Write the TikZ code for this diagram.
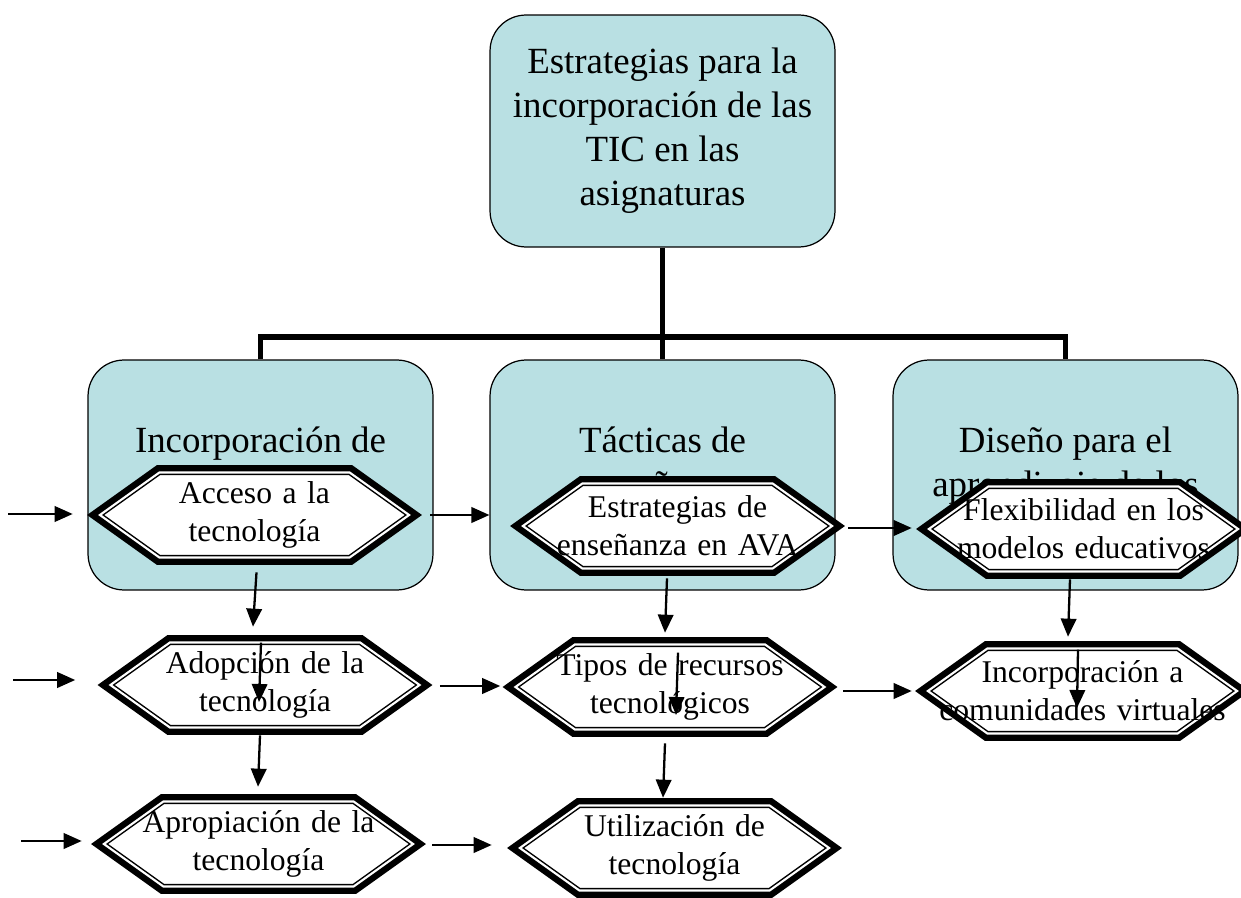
\documentclass[tikz,border=0pt]{standalone}
\usepackage{fontspec}
\setmainfont{Liberation Serif}
\usepackage{tikz}
\usetikzlibrary{calc, positioning, arrows.meta}
\definecolor{boxblue}{RGB}{185,224,227}
\tikzset{
    mainbox/.style={draw, fill=boxblue, rounded corners=0.72cm, line width=0.7pt, minimum width=6.9cm, minimum height=4.6cm, align=center, font=\fontsize{21}{25}\selectfont},
    boxtitle/.style={align=center, inner sep=0pt, font=\fontsize{21}{25}\selectfont},
    hexouter/.style={line width=8.5pt},
    hexinner/.style={fill=white, double, line width=0.85pt, double distance=1.2pt},
    hexnode/.style={minimum width=6.7cm, minimum height=2cm, inner sep=0pt, text width=6.2cm, align=center, font=\fontsize{18}{21.6}\selectfont,
        path picture={
            \coordinate (hc) at (path picture bounding box.center);
            \foreach \st in {hexouter,hexinner}
                \draw[\st] ($(hc)+(-154.6,0)$) -- ($(hc)+(-95.1,-42.5)$) -- ($(hc)+(95.1,-42.5)$) -- ($(hc)+(154.6,0)$) -- ($(hc)+(95.1,42.5)$) -- ($(hc)+(-95.1,42.5)$) -- cycle;
        }},
    link/.style={line width=2.85pt},
    arrow/.style={line width=1.3pt, -{Triangle[length=3.6mm, width=3.1mm]}}
}
\begin{document}
\begin{tikzpicture}[x=0.02cm, y=-0.02cm]
    \useasboundingbox (0,0) rectangle (1241,898);

    % top box and the three blocks
    \node[mainbox, minimum height=4.64cm] (top) at (662.5,131) {Estrategias para la\\incorporación de las\\TIC en las\\asignaturas};
    \node[mainbox] (inc) at (260.5,475) {};
    \node[mainbox] (tac) at (662.5,475) {};
    \node[mainbox] (dis) at (1065.5,475) {};

    % titles of the blocks
    \node[boxtitle, below=1.34cm of inc.north] (incT) {Incorporación de};
    \node[boxtitle, below=1.34cm of tac.north] (tacT) {Tácticas de\\enseñanza};
    \node[boxtitle, below=1.34cm of dis.north] (disT) {Diseño para el\\aprendizaje de los};

    % tree lines
    \coordinate (bus) at (663,337);
    \draw[link] (top.south) -- (tac.north);
    \draw[link] (inc.north) -- (inc.north |- bus) -- (dis.north |- bus) -- (dis.north);

    % hexagons
    \node[hexnode] (acc) at (254.5,515) {Acceso a la\\tecnología};
    \node[hexnode] (est) at (677.5,526) {Estrategias de\\enseñanza en AVA};
    \node[hexnode] (flex) at (1083.5,529) {Flexibilidad en los\\modelos educativos};
    \node[hexnode] (adop) at (265,685) {Adopción de la\\tecnología};
    \node[hexnode] (tipos) at (670,687) {Tipos de recursos\\tecnológicos};
    \node[hexnode] (incc) at (1082.5,691) {Incorporación a\\comunidades virtuales};
    \node[hexnode] (apro) at (258.5,844) {Apropiación de la\\tecnología};
    \node[hexnode] (util) at (674.5,848) {Utilización de\\tecnología};

    % free tails on the left
    \coordinate (inA) at (8,514);
    \coordinate (inB) at (13,680);
    \coordinate (inC) at (21,841);

    % arrows
    \draw[arrow] (inA) -- ($(acc.west)+(-14,-1)$);
    \draw[arrow] ($(acc.east)+(8,0)$) -- (acc.east -| tac.west);
    \draw[arrow] ($(est.east)+(3,2)$) -- ($(flex.west |- est.east)+(-4,2)$);
    \draw[arrow] ($(acc.south)+(2,7)$) -- ($(adop.north)+(-12,-8)$);
    \draw[arrow] ($(adop.north)+(-4,8)$) -- ($(adop.center)+(-6,17)$);
    \draw[arrow] ($(adop.south)+(-5,0)$) -- ($(apro.north)+(-0.5,-7)$);
    \draw[arrow] (inB) -- ($(adop.west)+(-22,-5)$);
    \draw[arrow] (inC) -- ($(apro.west)+(-9,-3)$);
    \draw[arrow] ($(adop.east)+(7,1)$) -- ($(tipos.west)+(-2,-1)$);
    \draw[arrow] ($(apro.east)+(6,1)$) -- ($(util.west)+(-15,-3)$);
    \draw[arrow] ($(est.south)+(-10.5,2)$) -- ($(tipos.north)+(-5,-4)$);
    \draw[arrow] ($(tipos.north)+(8,16)$) -- ($(tipos.center)+(6,28)$);
    \draw[arrow] ($(tipos.south)+(-5,6)$) -- ($(util.north)+(-11.5,0)$);
    \draw[arrow] ($(tipos.east)+(5.5,4)$) -- ($(incc.west)+(-3,0)$);
    \draw[arrow] ($(flex.south)+(-13.5,0)$) -- ($(incc.north)+(-14.5,-4)$);
    \draw[arrow] ($(incc.north)+(-4.5,9)$) -- ($(incc.center)+(-5.5,17)$);
\end{tikzpicture}
\end{document}
